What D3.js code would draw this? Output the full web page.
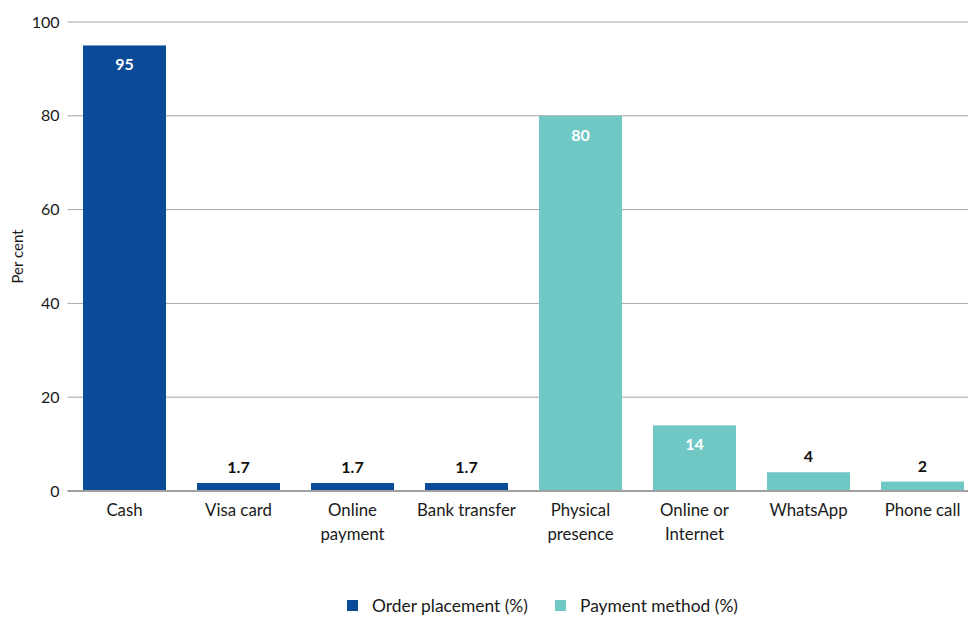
<!DOCTYPE html>
<html>
<head>
<meta charset="utf-8">
<script src="https://cdn.jsdelivr.net/npm/d3@7"></script>
<style>
  body { margin: 0; background: #fff; }
  svg { font-family: Lato, "Open Sans", sans-serif; }
</style>
</head>
<body>
<svg id="chart"></svg>
<script>
const categories = ["Cash", "Visa card", "Online payment", "Bank transfer", "Physical presence", "Online or Internet", "WhatsApp", "Phone call"];
const labelLines = [["Cash"], ["Visa card"], ["Online", "payment"], ["Bank transfer"], ["Physical", "presence"], ["Online or", "Internet"], ["WhatsApp"], ["Phone call"]];
const values = [95, 1.7, 1.7, 1.7, 80, 14, 4, 2];
const groups = ["Order placement (%)", "Order placement (%)", "Order placement (%)", "Order placement (%)", "Payment method (%)", "Payment method (%)", "Payment method (%)", "Payment method (%)"];
const seriesNames = ["Order placement (%)", "Payment method (%)"];
const seriesColors = ["#0a4a97", "#6fc8c4"];
const yTicks = [0, 20, 40, 60, 80, 100];

const width = 968, height = 618;
const margin = {top: 22, left: 67.5, bottom: 127};

const svg = d3.select("#chart").attr("width", width).attr("height", height);

const x = d3.scaleBand().domain(categories).range([margin.left, margin.left + 8 * 114]).paddingInner(0.272).paddingOuter(0.136);
const y = d3.scaleLinear().domain([0, 100]).range([height - margin.bottom, margin.top]);
const color = d3.scaleOrdinal().domain(seriesNames).range(seriesColors);

// grid lines
svg.append("g")
  .selectAll("line")
  .data(yTicks.filter(d => d > 0))
  .join("line")
  .attr("x1", margin.left).attr("x2", width)
  .attr("y1", d => y(d)).attr("y2", d => y(d))
  .attr("stroke", "#a6a6a6").attr("stroke-width", 1);

// y axis labels
const yAxis = d3.axisLeft(y).tickValues(yTicks).tickSize(0).tickPadding(8);
svg.append("g")
  .attr("transform", `translate(${margin.left},0)`)
  .call(yAxis)
  .call(g => g.select(".domain").remove())
  .call(g => g.selectAll("text").attr("font-size", 16).attr("fill", "#1a1a1a").attr("font-family", "Lato, sans-serif"));

// bars
svg.append("g")
  .selectAll("rect")
  .data(categories)
  .join("rect")
  .attr("x", d => x(d))
  .attr("width", x.bandwidth())
  .attr("y", (d, i) => y(values[i]))
  .attr("height", (d, i) => y(0) - y(values[i]))
  .attr("fill", (d, i) => color(groups[i]));

// baseline
svg.append("line")
  .attr("x1", margin.left).attr("x2", width)
  .attr("y1", y(0)).attr("y2", y(0))
  .attr("stroke", "#a0a0a0").attr("stroke-width", 2);

// value labels
svg.append("g")
  .selectAll("text")
  .data(categories)
  .join("text")
  .attr("x", d => x(d) + x.bandwidth() / 2)
  .attr("y", (d, i) => values[i] > 10 ? y(values[i]) + 25 : y(values[i]) - 10)
  .attr("text-anchor", "middle")
  .attr("font-size", 16)
  .attr("font-weight", "bold")
  .attr("fill", (d, i) => values[i] > 10 ? "#ffffff" : "#111111")
  .text((d, i) => values[i]);

// x labels
const xl = svg.append("g")
  .selectAll("text")
  .data(categories)
  .join("text")
  .attr("x", d => x(d) + x.bandwidth() / 2)
  .attr("y", y(0) + 25)
  .attr("text-anchor", "middle")
  .attr("font-size", 16.8)
  .attr("fill", "#1a1a1a");
xl.each(function(d, i) {
  d3.select(this).selectAll("tspan")
    .data(labelLines[i])
    .join("tspan")
    .attr("x", x(d) + x.bandwidth() / 2)
    .attr("dy", (t, j) => j === 0 ? 0 : 24)
    .text(t => t);
});

// y title
svg.append("text")
  .attr("transform", `translate(23,${(y(0) + y(100)) / 2}) rotate(-90)`)
  .attr("text-anchor", "middle")
  .attr("font-size", 15)
  .attr("fill", "#1a1a1a")
  .text("Per cent");

// legend
const legendX = [347, 555];
const legend = svg.append("g")
  .selectAll("g")
  .data(seriesNames)
  .join("g")
  .attr("transform", (d, i) => `translate(${legendX[i]},600)`);
legend.append("rect")
  .attr("width", 11).attr("height", 11)
  .attr("fill", d => color(d));
legend.append("text")
  .attr("x", 25).attr("y", 11.5)
  .attr("font-size", 17.4)
  .attr("fill", "#1a1a1a")
  .text(d => d);
</script>
</body>
</html>
